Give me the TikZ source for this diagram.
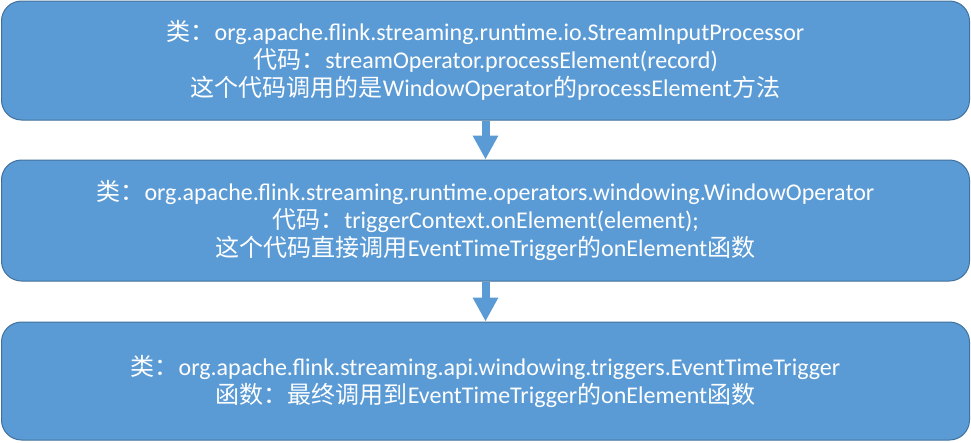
\documentclass[tikz,border=0pt]{standalone}
\usepackage{fontspec}
\setmainfont{Carlito}
\newfontfamily\cjk[Scale=1.0]{Noto Sans CJK SC}
\usetikzlibrary{arrows.meta,backgrounds}
\definecolor{boxfill}{HTML}{5B9BD5}
\definecolor{boxline}{HTML}{41719C}
\newcommand{\zh}[1]{{\cjk #1}}
\begin{document}
\begin{tikzpicture}[x=1pt,y=-1pt,
  flowbox/.style={draw=boxline, line width=1pt, fill=boxfill, rounded corners=20pt,
    minimum width=968pt, text=white, align=center,
    font=\fontsize{24}{28}\selectfont, inner sep=0pt},
  flowarrow/.style={draw=boxfill, line width=8pt, -{Triangle[width=24pt,length=24pt]}}]
\useasboundingbox (0,0) rectangle (971,442);
\node[flowbox, minimum height=119pt] (b1) at (485.5,60.5) {\zh{类：}org.apache.flink.streaming.runtime.io.StreamInputProcessor\\
\zh{代码：}streamOperator.processElement(record)\\
\zh{这个代码调用的是}WindowOperator\zh{的}processElement\zh{方法}};
\node[flowbox, minimum height=121pt] (b2) at (485.5,220.5) {\zh{类：}org.apache.flink.streaming.runtime.operators.windowing.WindowOperator\\
\zh{代码：}triggerContext.onElement(element);\\
\zh{这个代码直接调用}EventTimeTrigger\zh{的}onElement\zh{函数}};
\node[flowbox, minimum height=118pt] (b3) at (485.5,381) {\zh{类：}org.apache.flink.streaming.api.windowing.triggers.EventTimeTrigger\\
\zh{函数：最终调用到}EventTimeTrigger\zh{的}onElement\zh{函数}};
\begin{scope}[on background layer]
\draw[flowarrow] (b1.south) -- (b2.north);
\draw[flowarrow] (b2.south) -- (b3.north);
\end{scope}
\end{tikzpicture}
\end{document}
